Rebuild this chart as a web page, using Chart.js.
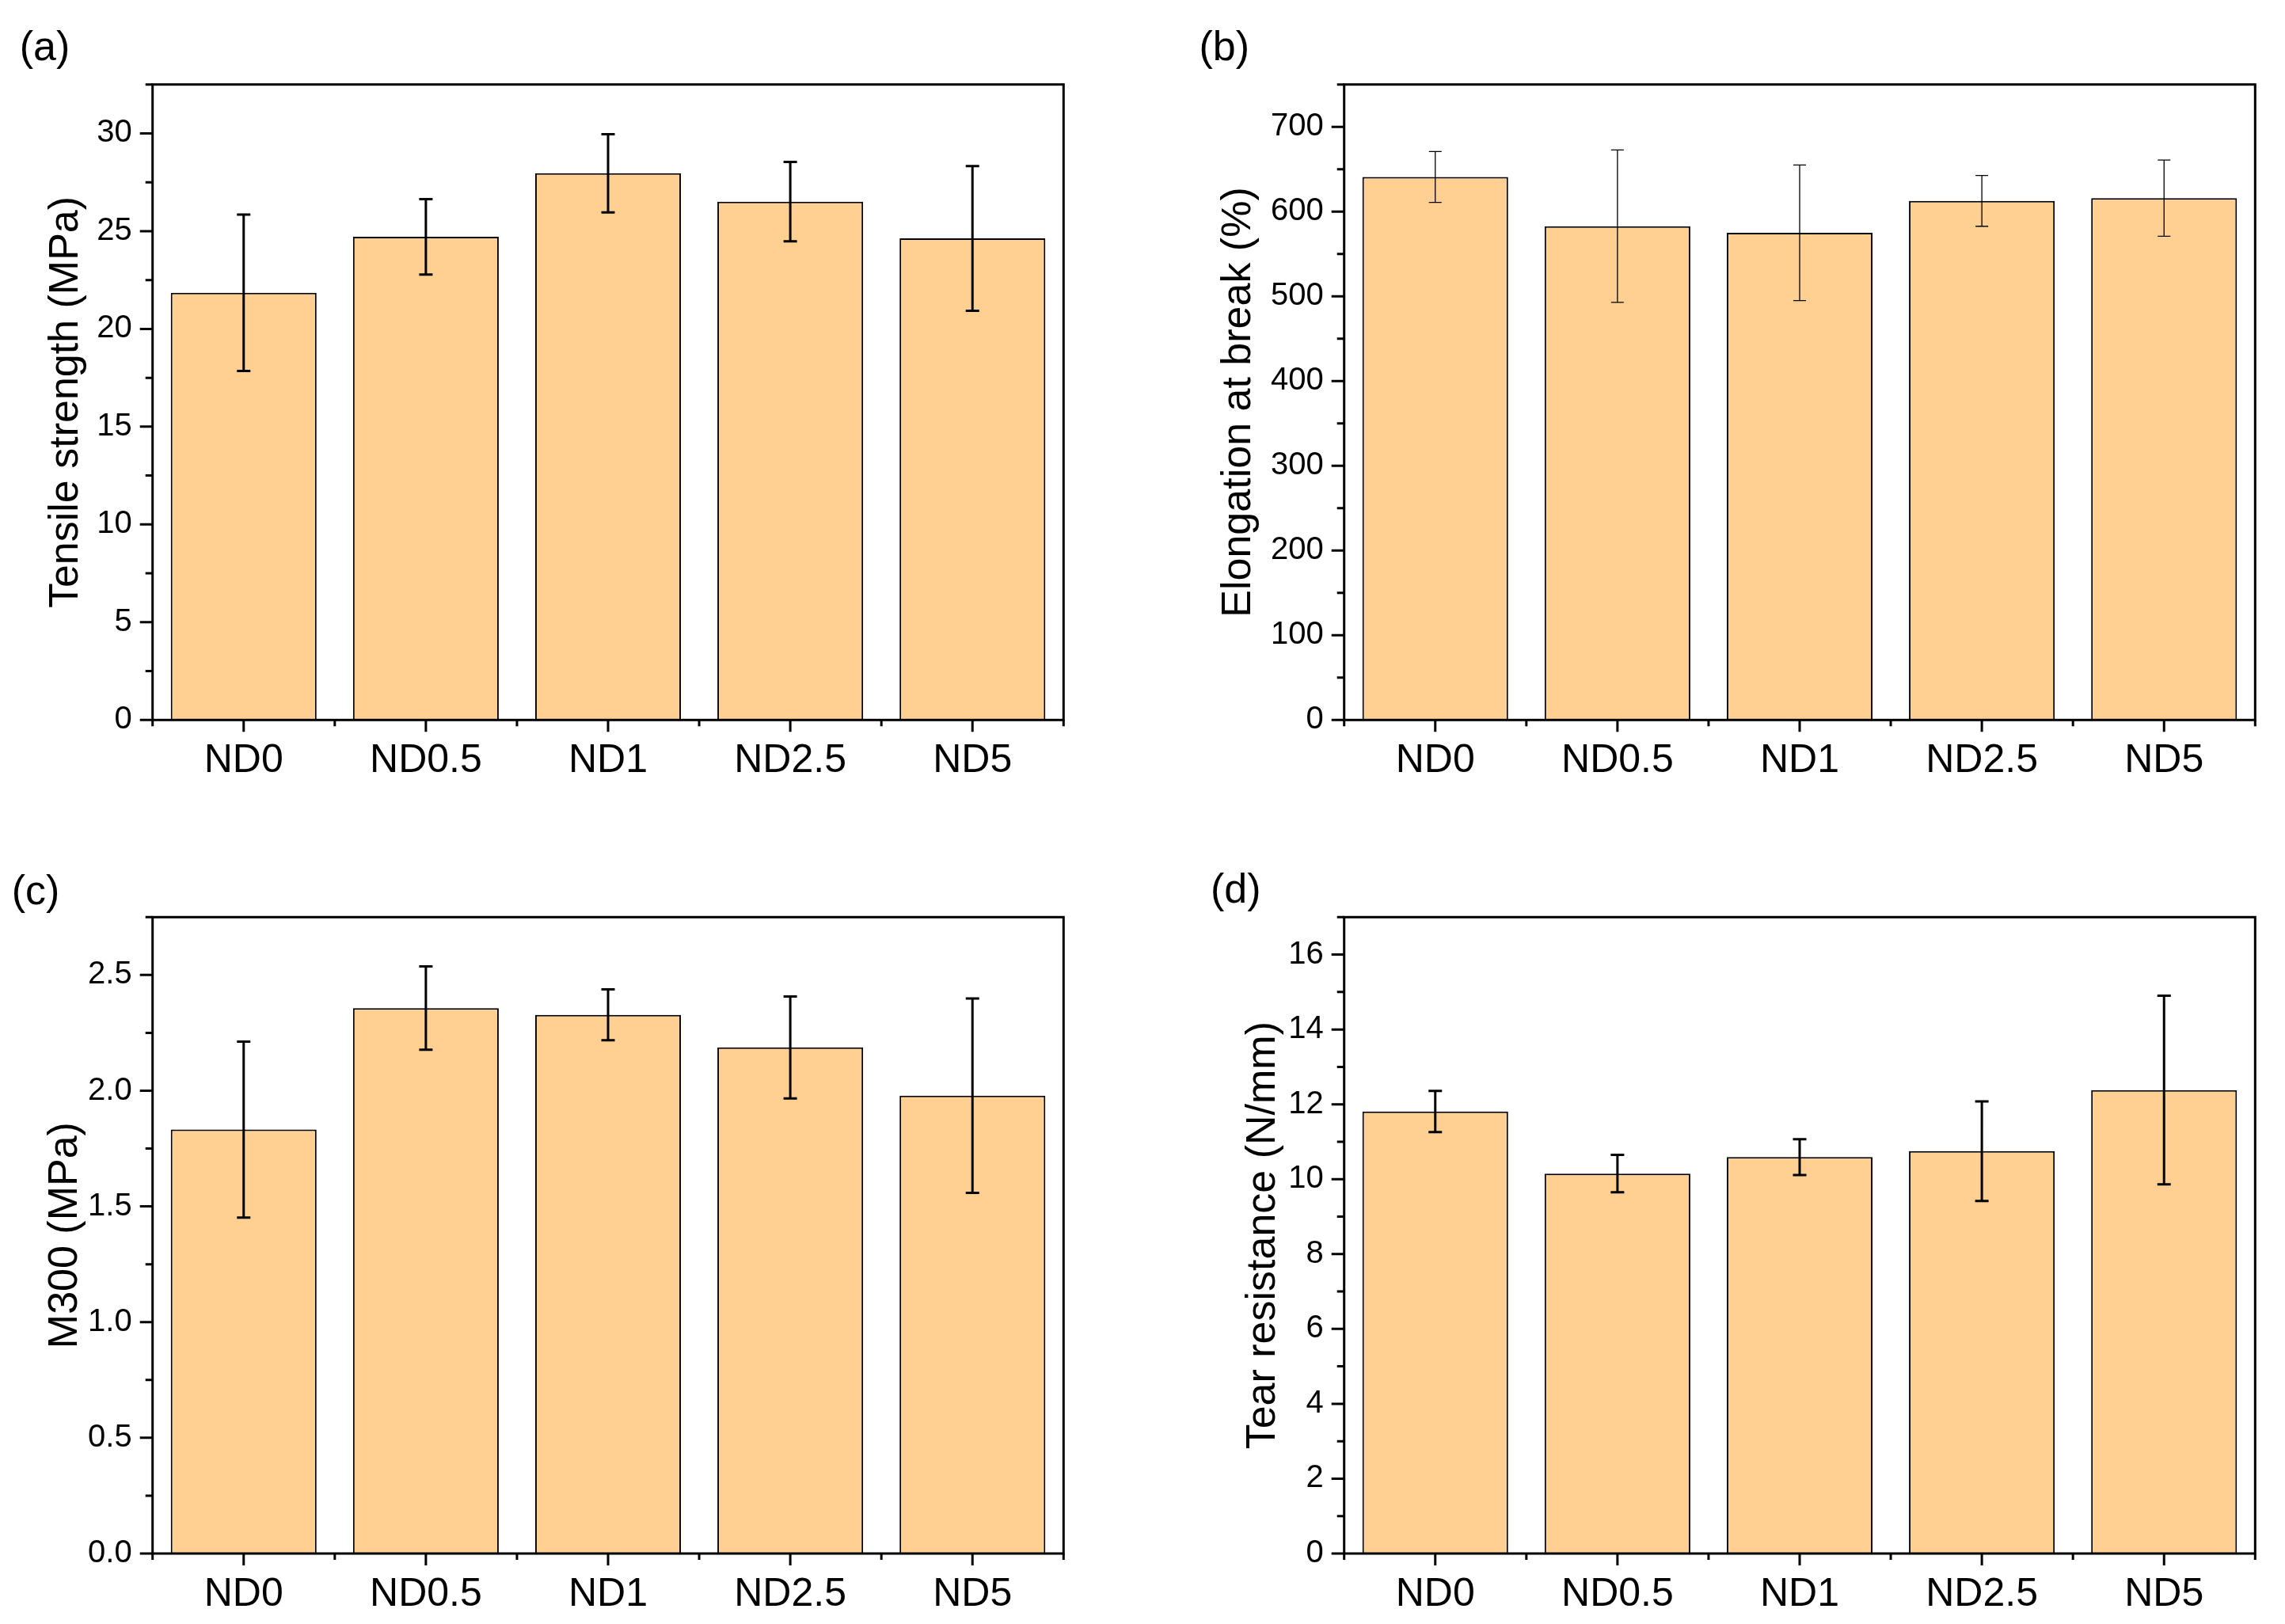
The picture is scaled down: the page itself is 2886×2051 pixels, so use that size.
<!DOCTYPE html>
<html>
<head>
<meta charset="utf-8">
<script src="https://cdn.jsdelivr.net/npm/chart.js@4.4.1/dist/chart.umd.min.js"></script>
<style>
  body { margin: 0; background: #fff; }
  #page { position: relative; width: 2886px; height: 2051px; background: #fff; }
  canvas { position: absolute; }
</style>
</head>
<body>
<div id="page">
  <canvas id="chartA" width="1443" height="1025" style="left:0px;top:0px"></canvas>
  <canvas id="chartB" width="1443" height="1025" style="left:1443px;top:0px"></canvas>
  <canvas id="chartC" width="1443" height="1026" style="left:0px;top:1025px"></canvas>
  <canvas id="chartD" width="1443" height="1026" style="left:1443px;top:1025px"></canvas>
</div>
<script>
// Sample names on the x axis
const categories = ['ND0', 'ND0.5', 'ND1', 'ND2.5', 'ND5'];

// (a) tensile strength, MPa
const tensile = [21.85, 24.71, 27.96, 26.51, 24.63];
const tensileErr = [4.0, 1.93, 2.0, 2.03, 3.7];

// (b) elongation at break, %
const elongation = [640.8, 582.8, 574.9, 612.7, 615.8];
const elongationErr = [30, 90, 80, 30, 45];

// (c) modulus at 300 %, MPa
const m300 = [1.832, 2.357, 2.328, 2.187, 1.979];
const m300Err = [0.38, 0.18, 0.11, 0.22, 0.42];

// (d) tear resistance, N/mm
const tear = [11.81, 10.15, 10.59, 10.75, 12.38];
const tearErr = [0.55, 0.5, 0.48, 1.33, 2.52];

const FONT = "'Liberation Sans', Arial, sans-serif";
const BAR_COLOR = '#FFD092';

// Draws error bars, the closed frame, major/minor ticks and the panel letter
const panelPlugin = {
    id: 'panel',
    afterDatasetsDraw(chart, args, opts) {
        const ctx = chart.ctx;
        const xScale = chart.scales.x;
        const yScale = chart.scales.y;
        const area = chart.chartArea;
        const meta = chart.getDatasetMeta(0);

        ctx.save();
        ctx.strokeStyle = '#000';
        ctx.lineCap = 'butt';

        // error bars
        ctx.lineWidth = opts.errWidth;
        ctx.beginPath();
        opts.values.forEach((v, i) => {
            const px = meta.data[i].x;
            const top = yScale.getPixelForValue(v + opts.errors[i]);
            const bot = yScale.getPixelForValue(v - opts.errors[i]);
            ctx.moveTo(px, top);
            ctx.lineTo(px, bot);
            ctx.moveTo(px - opts.cap / 2, top);
            ctx.lineTo(px + opts.cap / 2, top);
            ctx.moveTo(px - opts.cap / 2, bot);
            ctx.lineTo(px + opts.cap / 2, bot);
        });
        ctx.stroke();

        // frame
        ctx.lineWidth = 3;
        ctx.strokeRect(area.left, area.top, area.right - area.left, area.bottom - area.top);

        // y ticks, major every step and minor halfway
        ctx.beginPath();
        const half = opts.step / 2;
        for (let k = 0; k * half <= yScale.max + 1e-9; k++) {
            const py = yScale.getPixelForValue(k * half);
            ctx.moveTo(area.left, py);
            ctx.lineTo(area.left - (k % 2 === 0 ? 16 : 9), py);
        }
        // x ticks at the categories and minor ones between them
        categories.forEach((c, i) => {
            const px = xScale.getPixelForValue(i);
            ctx.moveTo(px, area.bottom);
            ctx.lineTo(px, area.bottom + 15);
        });
        for (let i = 0; i <= categories.length; i++) {
            const px = xScale.getPixelForValue(i - 0.5);
            ctx.moveTo(px, area.bottom);
            ctx.lineTo(px, area.bottom + 8);
        }
        ctx.stroke();

        // panel letter
        ctx.fillStyle = '#000';
        ctx.font = '52px ' + FONT;
        ctx.textBaseline = 'alphabetic';
        ctx.textAlign = 'left';
        ctx.fillText(opts.letter, opts.letterX, opts.letterY);
        ctx.restore();
    }
};

function makePanel(id, p) {
    const canvas = document.getElementById(id);
    return new Chart(canvas.getContext('2d'), {
        type: 'bar',
        data: {
            labels: categories,
            datasets: [{
                data: p.values,
                backgroundColor: BAR_COLOR,
                borderColor: '#000',
                borderWidth: 2,
                barPercentage: 0.8,
                categoryPercentage: 1.0
            }]
        },
        options: {
            responsive: false,
            animation: false,
            devicePixelRatio: 1,
            layout: {
                padding: { left: p.padLeft, top: p.top, right: canvas.width - p.right, bottom: 0 }
            },
            plugins: {
                legend: { display: false },
                tooltip: { enabled: false },
                panel: {
                    values: p.values,
                    errors: p.errors,
                    errWidth: p.errWidth,
                    cap: p.cap,
                    step: p.step,
                    letter: p.letter,
                    letterX: p.letterX,
                    letterY: p.letterY
                }
            },
            scales: {
                x: {
                    ticks: {
                        color: '#000',
                        padding: 22,
                        maxRotation: 0,
                        autoSkip: false,
                        font: { family: FONT, size: 50 }
                    },
                    grid: { display: false, drawTicks: false },
                    border: { display: false },
                    afterFit(scale) { scale.height = canvas.height - p.bottom; }
                },
                y: {
                    min: 0,
                    max: p.max,
                    ticks: {
                        stepSize: p.step,
                        includeBounds: false,
                        color: '#000',
                        padding: 26,
                        font: { family: FONT, size: 40 },
                        callback: p.format
                    },
                    grid: { display: false, drawTicks: false },
                    border: { display: false },
                    title: {
                        display: true,
                        text: p.title,
                        color: '#000',
                        padding: 0,
                        font: { family: FONT, size: 52 }
                    },
                    afterFit(scale) { scale.width = p.left - p.padLeft; }
                }
            }
        },
        plugins: [panelPlugin]
    });
}

makePanel('chartA', {
    values: tensile, errors: tensileErr, errWidth: 3, cap: 17,
    max: 32.5, step: 5, format: v => String(v),
    title: 'Tensile strength (MPa)',
    padLeft: 52, left: 192.7, right: 1343.3, top: 106.7, bottom: 909.3,
    letter: '(a)', letterX: 24.7, letterY: 76
});

makePanel('chartB', {
    values: elongation, errors: elongationErr, errWidth: 1.3, cap: 16,
    max: 750, step: 100, format: v => String(v),
    title: 'Elongation at break (%)',
    padLeft: 90, left: 254.7, right: 1405.3, top: 106.7, bottom: 909.3,
    letter: '(b)', letterX: 71.4, letterY: 76
});

makePanel('chartC', {
    values: m300, errors: m300Err, errWidth: 3, cap: 17,
    max: 2.75, step: 0.5, format: v => v.toFixed(1),
    title: 'M300 (MPa)',
    padLeft: 51, left: 192.7, right: 1343.3, top: 133.3, bottom: 937,
    letter: '(c)', letterX: 14.7, letterY: 117
});

makePanel('chartD', {
    values: tear, errors: tearErr, errWidth: 3, cap: 17,
    max: 17, step: 2, format: v => String(v),
    title: 'Tear resistance (N/mm)',
    padLeft: 121, left: 254.7, right: 1405.3, top: 133.3, bottom: 937,
    letter: '(d)', letterX: 86, letterY: 115
});
</script>
</body>
</html>
